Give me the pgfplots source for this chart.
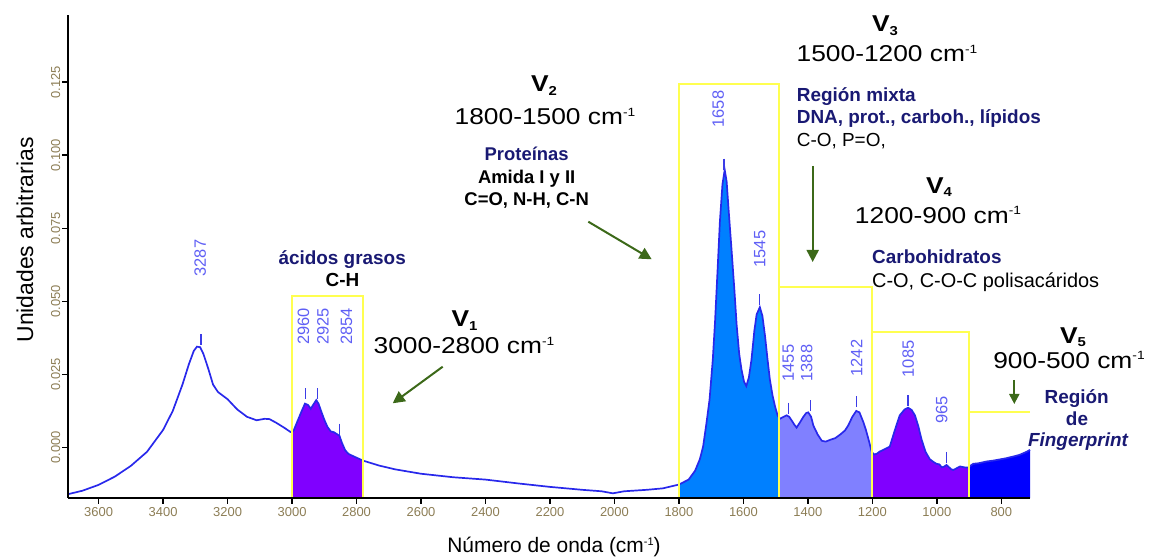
\documentclass[border=0pt]{standalone}
\usepackage{fontspec}
\setmainfont{Liberation Sans}
\newfontfamily\widefont{Liberation Sans}[FakeStretch=1.15]
\usepackage{pgfplots}
\usepackage{pgfplotstable}
\pgfplotsset{compat=1.18}
\usepgfplotslibrary{fillbetween}
\usetikzlibrary{arrows.meta}

\definecolor{navyt}{RGB}{25,25,115}
\definecolor{tickc}{RGB}{140,125,85}
\definecolor{pk}{RGB}{95,95,245}
\definecolor{pkm}{RGB}{60,60,230}
\definecolor{specc}{RGB}{40,40,235}
\definecolor{boxy}{RGB}{255,255,80}
\definecolor{arrg}{RGB}{60,105,25}
\definecolor{fa}{RGB}{128,0,255}
\definecolor{fb}{RGB}{0,128,255}
\definecolor{fc}{RGB}{128,128,255}
\definecolor{fd}{RGB}{0,0,255}

\newcommand{\fs}[1]{\fontsize{#1}{#1}\selectfont}
\newcommand{\Vlab}[1]{{\widefont\bfseries\fs{23}V\raisebox{-3.5pt}{\fs{13}#1}}}
\newcommand{\rng}[1]{{\widefont\fs{23}#1 cm\raisebox{8.5pt}{\fs{12}-1}}}

\pgfplotstableread{
wn val
3695 -0.0160
3650 -0.0148
3600 -0.0128
3550 -0.0100
3500 -0.0063
3450 -0.0015
3400 0.0060
3370 0.0125
3340 0.0215
3320 0.0285
3305 0.0330
3295 0.0345
3285 0.0343
3275 0.0320
3260 0.0270
3245 0.0215
3230 0.0190
3200 0.0165
3170 0.0130
3140 0.0105
3110 0.0093
3085 0.0098
3070 0.0097
3050 0.0085
3025 0.0068
3005 0.0053
2995 0.0058
2985 0.0085
2970 0.0125
2960 0.0150
2950 0.0145
2942 0.0132
2935 0.0145
2925 0.0162
2918 0.0150
2910 0.0125
2900 0.0095
2890 0.0070
2880 0.0055
2870 0.0052
2860 0.0045
2853 0.0040
2845 0.0015
2835 -0.0010
2825 -0.0022
2810 -0.0030
2780 -0.0045
2730 -0.0062
2680 -0.0075
2600 -0.0090
2500 -0.0102
2400 -0.0110
2300 -0.0123
2200 -0.0135
2100 -0.0145
2040 -0.0150
2005 -0.0157
1970 -0.0150
1900 -0.0145
1850 -0.0140
1800 -0.0127
1770 -0.0110
1750 -0.0080
1735 -0.0040
1725 0.0003
1715 0.0080
1705 0.0164
1695 0.0300
1688 0.0430
1680 0.0610
1673 0.0772
1665 0.0900
1658 0.0950
1652 0.0910
1645 0.0800
1637 0.0680
1628 0.0540
1621 0.0420
1613 0.0320
1606 0.0267
1598 0.0225
1591 0.0210
1583 0.0240
1575 0.0300
1566 0.0400
1559 0.0455
1549 0.0480
1541 0.0450
1533 0.0382
1525 0.0300
1518 0.0233
1510 0.0180
1502 0.0141
1494 0.0110
1487 0.0098
1475 0.0105
1466 0.0110
1458 0.0105
1450 0.0092
1442 0.0078
1435 0.0068
1425 0.0085
1414 0.0105
1405 0.0118
1399 0.0120
1390 0.0105
1383 0.0075
1370 0.0045
1357 0.0023
1345 0.0020
1331 0.0026
1315 0.0032
1300 0.0044
1285 0.0058
1275 0.0075
1262 0.0105
1250 0.0125
1240 0.0120
1228 0.0087
1220 0.0060
1212 0.0028
1202 -0.0015
1195 -0.0024
1187 -0.0022
1177 -0.0014
1160 -0.0005
1146 0.0003
1130 0.0060
1115 0.0110
1100 0.0130
1089 0.0136
1078 0.0128
1068 0.0110
1058 0.0075
1047 0.0026
1035 -0.0015
1022 -0.0040
1010 -0.0050
1001 -0.0056
992 -0.0058
985 -0.0068
978 -0.0066
970 -0.0060
962 -0.0068
955 -0.0075
949 -0.0077
940 -0.0072
928 -0.0065
915 -0.0068
902 -0.0069
895 -0.0062
887 -0.0056
870 -0.0054
846 -0.0048
825 -0.0045
805 -0.0041
785 -0.0037
763 -0.0031
745 -0.0026
732 -0.0020
720 -0.0014
711 -0.0008
}\spectrum

\begin{document}
\begin{tikzpicture}
\begin{axis}[
  at={(68bp,62bp)}, anchor=south west,
  scale only axis, width=962bp, height=483bp,
  x dir=reverse,
  xmin=711, xmax=3695, ymin=-0.0173, ymax=0.148,
  axis x line*=bottom, axis y line*=left,
  axis line style={line width=2.5bp, black},
  axis on top,
  clip=false,
  xtick={800,1000,...,3600},
  ytick={0,0.025,0.05,0.075,0.1,0.125},
  tick align=outside, major tick length=6bp,
  tick style={line width=1.5bp, black},
  /pgf/number format/assume math mode=true,
  /pgf/number format/1000 sep={},
  xticklabel style={font=\fs{13}, text=tickc},
  yticklabel style={font=\fs{13}, text=tickc, rotate=90, anchor=south, inner sep=1.5bp,
    /pgf/number format/fixed, /pgf/number format/fixed zerofill,
    /pgf/number format/precision=3},
]
\addplot[name path=spec, draw=none] table[x=wn, y=val] {\spectrum};
\addplot[name path=base, draw=none] coordinates {(711,-0.0173) (3695,-0.0173)};
\addplot[fa] fill between[of=spec and base, soft clip={domain=2780:3000}];
\addplot[fb] fill between[of=spec and base, soft clip={domain=1490:1800}];
\addplot[fc] fill between[of=spec and base, soft clip={domain=1200:1490}];
\addplot[fa] fill between[of=spec and base, soft clip={domain=900:1200}];
\addplot[fd] fill between[of=spec and base, soft clip={domain=711:900}];
\addplot[specc, line width=1.7bp] table[x=wn, y=val] {\spectrum};
% region boxes
\addplot[boxy, line width=2bp] coordinates {(3000,-0.0173) (3000,0.0517) (2780,0.0517) (2780,-0.0173) (3000,-0.0173)};
\addplot[boxy, line width=2bp] coordinates {(1800,-0.0173) (1800,0.1244) (1490,0.1244) (1490,-0.0173) (1800,-0.0173)};
\addplot[boxy, line width=2bp] coordinates {(1490,-0.0173) (1490,0.0550) (1200,0.0550) (1200,-0.0173) (1490,-0.0173)};
\addplot[boxy, line width=2bp] coordinates {(1200,-0.0173) (1200,0.0394) (900,0.0394) (900,-0.0173) (1200,-0.0173)};
\addplot[boxy, line width=2bp] coordinates {(900,0.0122) (711,0.0122)};
% peak tick marks
\addplot[only marks, mark=|, mark size=5.5bp, pkm, mark options={line width=1.3bp}] coordinates {
(3282,0.0368) (2958,0.0183) (2922,0.0183) (2853,0.0063) (1660,0.0970) (1549,0.0505)
(1461,0.0135) (1391,0.0142) (1249,0.0157) (1089,0.0159) (969,-0.0034)};
% peak labels
\begin{scope}[every node/.style={rotate=90, anchor=center, inner sep=0, font=\fs{16.5}, text=pk}]
\node at (axis cs:3285,0.0648) {3287};
\node at (axis cs:2965,0.0414) {2960};
\node at (axis cs:2904,0.0414) {2925};
\node at (axis cs:2831,0.0414) {2854};
\node at (axis cs:1678,0.1158) {1658};
\node at (axis cs:1549,0.0679) {1545};
\node at (axis cs:1461,0.0289) {1455};
\node at (axis cs:1404,0.0289) {1388};
\node at (axis cs:1249,0.0306) {1242};
\node at (axis cs:1089,0.0303) {1085};
\node at (axis cs:985,0.0128) {965};
\end{scope}
\end{axis}

\begin{scope}[yshift=560bp, x=1bp, y=-1bp]
% axis labels
\node[rotate=90, anchor=center, inner sep=0, font=\fs{23}] at (25,240) {Unidades arbitrarias};
\node[anchor=base, inner sep=0, font=\fs{21}] at (554,553) {Número de onda (cm\raisebox{7.5pt}{\fs{11}-1})};
% V1
\node[anchor=base west, inner sep=0, text=navyt, font=\bfseries\fs{19}] at (278.3,264.3) {ácidos grasos};
\node[anchor=base, inner sep=0, font=\bfseries\fs{19}] at (342.5,286.7) {C-H};
\node[anchor=base, inner sep=0] at (464.5,326.7) {\Vlab{1}};
\node[anchor=base, inner sep=0] at (464,354) {\rng{3000-2800}};
\draw[arrg, line width=2bp, -{Triangle[length=12bp,width=12bp]}] (442.7,366.7) -- (392.7,403.3);
% V2
\node[anchor=base, inner sep=0] at (544,91.7) {\Vlab{2}};
\node[anchor=base, inner sep=0] at (545,125) {\rng{1800-1500}};
\node[anchor=base, inner sep=0, text=navyt, font=\bfseries\fs{18.5}] at (526.7,160.7) {Proteínas};
\node[anchor=base, inner sep=0, font=\bfseries\fs{18.5}] at (526.7,183.3) {Amida I y II};
\node[anchor=base, inner sep=0, font=\bfseries\fs{18.5}] at (526.7,205.7) {C=O, N-H, C-N};
\draw[arrg, line width=2bp, -{Triangle[length=12bp,width=12bp]}] (588.3,221.7) -- (651.7,259.3);
% V3
\node[anchor=base, inner sep=0] at (885,31.7) {\Vlab{3}};
\node[anchor=base, inner sep=0] at (887,61.7) {\rng{1500-1200}};
\node[anchor=base west, inner sep=0, text=navyt, font=\bfseries\fs{19}] at (796.7,102) {Región mixta};
\node[anchor=base west, inner sep=0, text=navyt, font=\bfseries\fs{19}] at (796.7,124) {DNA, prot., carboh., lípidos};
\node[anchor=base west, inner sep=0, font=\fs{19}] at (796.7,146.7) {C-O, P=O,};
\draw[arrg, line width=2bp, -{Triangle[length=12bp,width=12bp]}] (812.7,166) -- (812.7,262);
% V4
\node[anchor=base, inner sep=0] at (939,193.3) {\Vlab{4}};
\node[anchor=base, inner sep=0] at (938,223.3) {\rng{1200-900}};
\node[anchor=base west, inner sep=0, text=navyt, font=\bfseries\fs{19}] at (872,264) {Carbohidratos};
\node[anchor=base west, inner sep=0, font=\fs{20}] at (872,287.7) {C-O, C-O-C polisacáridos};
% V5
\node[anchor=base, inner sep=0] at (1073,343.3) {\Vlab{5}};
\node[anchor=base, inner sep=0] at (1069,368.3) {\rng{900-500}};
\draw[arrg, line width=2bp, -{Triangle[length=10bp,width=10bp]}] (1014.3,380) -- (1014.3,404);
\node[anchor=base, inner sep=0, text=navyt, font=\bfseries\fs{19}] at (1076.7,403.3) {Región};
\node[anchor=base, inner sep=0, text=navyt, font=\bfseries\fs{19}] at (1077,426) {de};
\node[anchor=base, inner sep=0, text=navyt, font=\bfseries\itshape\fs{19}] at (1078,446.7) {Fingerprint};
\end{scope}
\pgfresetboundingbox
\path[use as bounding box] (0,0) rectangle (1155bp,560bp);
\end{tikzpicture}
\end{document}
